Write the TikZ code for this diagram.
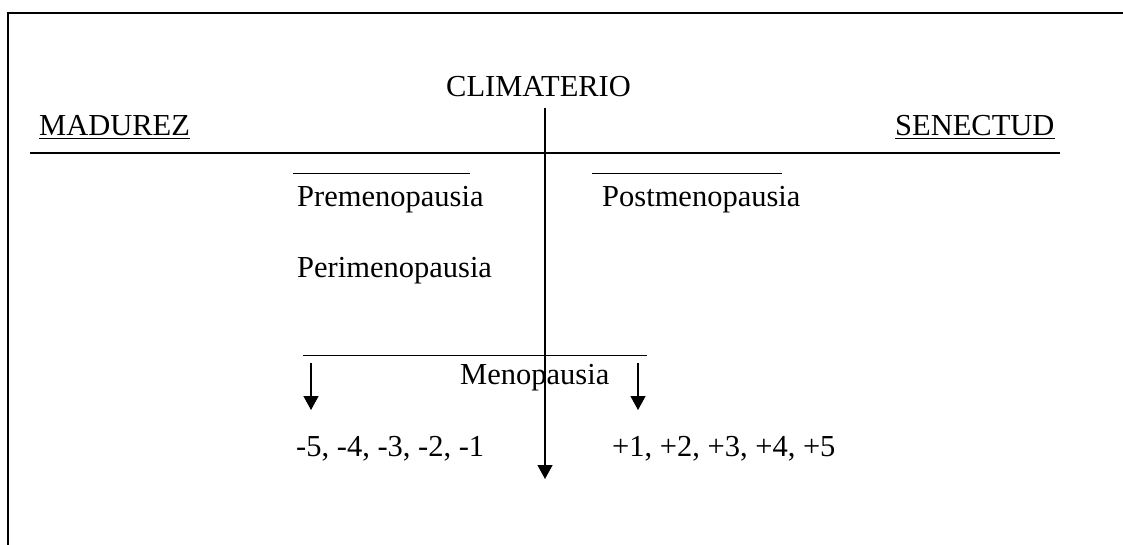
\documentclass[tikz,border=0pt]{standalone}
\usepackage{fontspec}
\setmainfont{Liberation Serif}
\usetikzlibrary{arrows.meta}
\begin{document}
\begin{tikzpicture}[x=1pt,y=-1pt,
  lbl/.style={anchor=base west,inner sep=0pt,font=\fontsize{30.5}{36}\selectfont},
  thick line/.style={line width=1.4pt},
  bar/.style={line width=1pt},
  arr/.style={line width=1.3pt,-{Triangle[length=14pt,width=15pt]}}]
\useasboundingbox (0,0) rectangle (1123,545);
% frame (cropped)
\draw[line width=1.6pt] (1123,13) -- (8,13) -- (8,545);
% main timeline
\coordinate (hl) at (30,153);
\coordinate (hr) at (1060,153);
\draw[thick line] (hl) -- (hr);
% labels
\node[lbl] (clim) at (446,97) {CLIMATERIO};
\node[lbl] (mad) at (39,136) {MADUREZ};
\node[lbl] (sen) at (895,136) {SENECTUD};
\draw[line width=1.3pt] ([yshift=-2.5pt]mad.base west) -- ([yshift=-2.5pt]mad.base east);
\draw[line width=1.3pt] ([yshift=-2.5pt]sen.base west) -- ([yshift=-2.5pt]sen.base east);
\node[lbl] (pre) at (297,207) {Premenopausia};
\node[lbl] (post) at (602,207) {Postmenopausia};
\node[lbl] (peri) at (297,277) {Perimenopausia};
\node[lbl] (meno) at (460,384) {Menopausia};
\node[lbl] (neg) at (296,456) {-5, -4, -3, -2, -1};
\node[lbl] (pos) at (612,456) {+1, +2, +3, +4, +5};
% underscore bars
\draw[bar] (293,174) -- (470,174);
\draw[bar] (592,174) -- (782,174);
\draw[bar] (303,355) -- (647,355);
% arrows
\coordinate (vtop) at (545,108);
\coordinate (vbot) at (545,479);
\draw[arr] (vtop) -- (vbot);
\coordinate (la) at (311,363);
\coordinate (lb) at (311,410);
\draw[arr] (la) -- (lb);
\coordinate (ra) at (638,363);
\coordinate (rb) at (638,410);
\draw[arr] (ra) -- (rb);
\end{tikzpicture}
\end{document}
